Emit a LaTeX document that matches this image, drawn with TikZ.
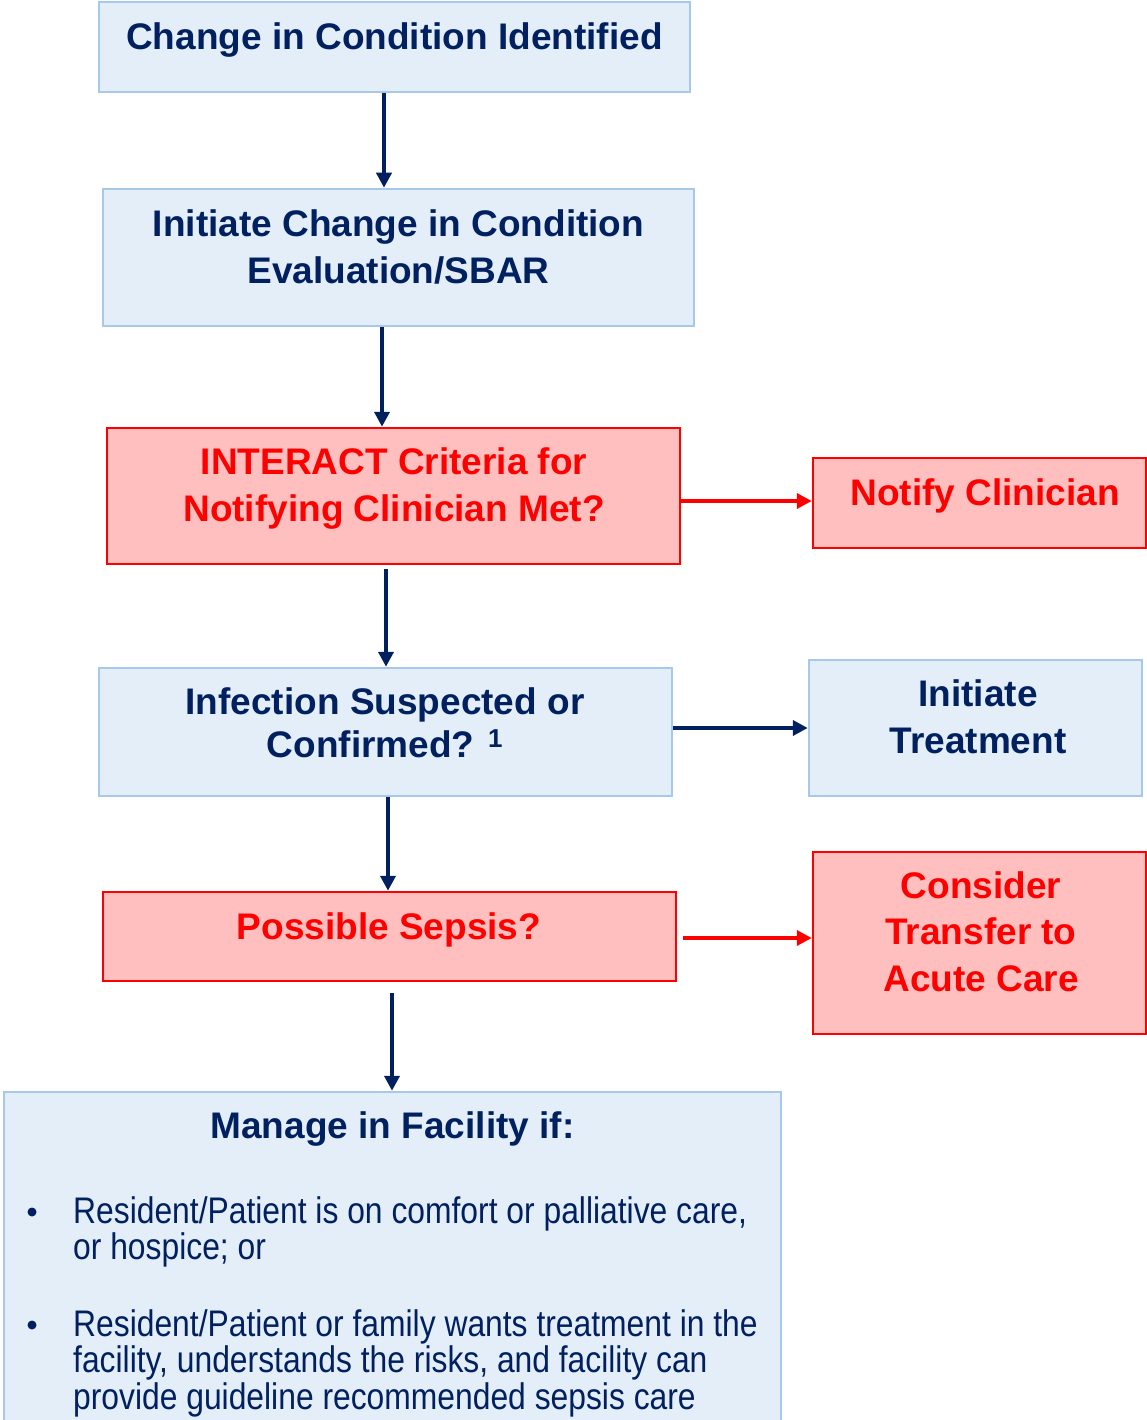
\documentclass[tikz,border=0pt]{standalone}
\usepackage{fontspec}
\setmainfont{Liberation Sans}
\newfontfamily\condfont[FakeStretch=0.86]{Liberation Sans}
\usetikzlibrary{arrows.meta,calc}
\definecolor{navy}{HTML}{002060}
\definecolor{bfill}{HTML}{E4EEF8}
\definecolor{bline}{HTML}{A6C8EA}
\definecolor{rfill}{HTML}{FFBFBF}
\definecolor{rline}{HTML}{FF0000}
\begin{document}
\begin{tikzpicture}[x=1pt,y=-1pt,
 bluebox/.style={draw=bline, fill=bfill, line width=2.5pt, inner sep=0pt, rectangle},
 redbox/.style={draw=rline, fill=rfill, line width=2.5pt, inner sep=0pt, rectangle},
 btext/.style={font=\fontsize{37}{47}\selectfont\bfseries, text=navy, align=center, inner sep=0pt, anchor=north},
 rtext/.style={btext, text=rline},
 bodytext/.style={font=\condfont\fontsize{37}{36.5}\selectfont, text=navy, align=left, inner sep=0pt, anchor=north west},
 dotmark/.style={circle, fill=navy, minimum size=9pt, inner sep=0pt},
 navyarr/.style={draw=navy, line width=4pt, -{Triangle[length=15pt,width=15pt]}},
 redarr/.style={draw=rline, line width=4pt, -{Triangle[length=15pt,width=15pt]}}]
\useasboundingbox (0,0) rectangle (1147,1420);
\clip (0,0) rectangle (1147,1420);
\fill[white] (0,0) rectangle (1147,1420);
% boxes
\node[bluebox, minimum width=591pt, minimum height=90pt] (b1) at (394.5,47) {};
\node[bluebox, minimum width=591pt, minimum height=137pt] (b2) at (398.5,257.5) {};
\node[redbox, minimum width=573pt, minimum height=136pt] (b3) at (393.5,496) {};
\node[redbox, minimum width=333pt, minimum height=90pt] (b4) at (979.5,503) {};
\node[bluebox, minimum width=573pt, minimum height=128pt] (b5) at (385.5,732) {};
\node[bluebox, minimum width=333pt, minimum height=136pt] (b6) at (975.5,728) {};
\node[redbox, minimum width=573pt, minimum height=89pt] (b7) at (389.5,936.5) {};
\node[redbox, minimum width=333pt, minimum height=182pt] (b8) at (979.5,943) {};
\node[bluebox, minimum width=777pt, minimum height=428pt] (b9) at (392.5,1306) {};
% texts
\node[btext] (t1) at (394.5,22) {Change in Condition Identified};
\node[btext] (t2) at (398.5,209) {Initiate Change in Condition\\Evaluation/SBAR};
\node[rtext] (t3) at (394,447) {INTERACT Criteria for\\Notifying Clinician Met?};
\node[rtext] (t4) at (985,478) {Notify Clinician};
\node[btext, font=\fontsize{37}{43}\selectfont\bfseries] (t5) at (385,687) {Infection Suspected or\\Confirmed? \textsuperscript{1}};
\node[btext] (t6) at (978,679) {Initiate\\Treatment};
\node[rtext] (t7) at (389,912) {Possible Sepsis?};
\node[rtext, font=\fontsize{37}{46.5}\selectfont\bfseries] (t8) at (981,871) {Consider\\Transfer to\\Acute Care};
\node[btext] (t9) at (392.5,1111) {Manage in Facility if:};
\node[dotmark] (d1) at (32,1212) {};
\node[bodytext] (p1) at (73,1196) {Resident/Patient is on comfort or palliative care,\\or hospice; or};
\node[dotmark] (d2) at (32,1325) {};
\node[bodytext] (p2) at (73,1309) {Resident/Patient or family wants treatment in the\\facility, understands the risks, and facility can\\provide guideline recommended sepsis care};
% connectors
\coordinate (v1) at (384,0);
\coordinate (v2) at (382,0);
\coordinate (v3) at (386,0);
\coordinate (v4) at (388,0);
\coordinate (v5) at (392,0);
\coordinate (h1) at (0,501);
\coordinate (h2) at (0,728);
\coordinate (h3) at (0,938);
\draw[navyarr] (b1.south -| v1) -- (b2.north -| v1);
\draw[navyarr] (b2.south -| v2) -- (b3.north -| v2);
\draw[navyarr] ($(b3.south -| v3)+(0,4)$) -- (b5.north -| v3);
\draw[navyarr] (b5.south -| v4) -- (b7.north -| v4);
\draw[navyarr] ($(b7.south -| v5)+(0,11)$) -- (b9.north -| v5);
\draw[redarr] (b3.east |- h1) -- (b4.west |- h1);
\draw[navyarr] (b5.east |- h2) -- (b6.west |- h2);
\draw[redarr] ($(b7.east |- h3)+(6,0)$) -- (b8.west |- h3);
\end{tikzpicture}
\end{document}
